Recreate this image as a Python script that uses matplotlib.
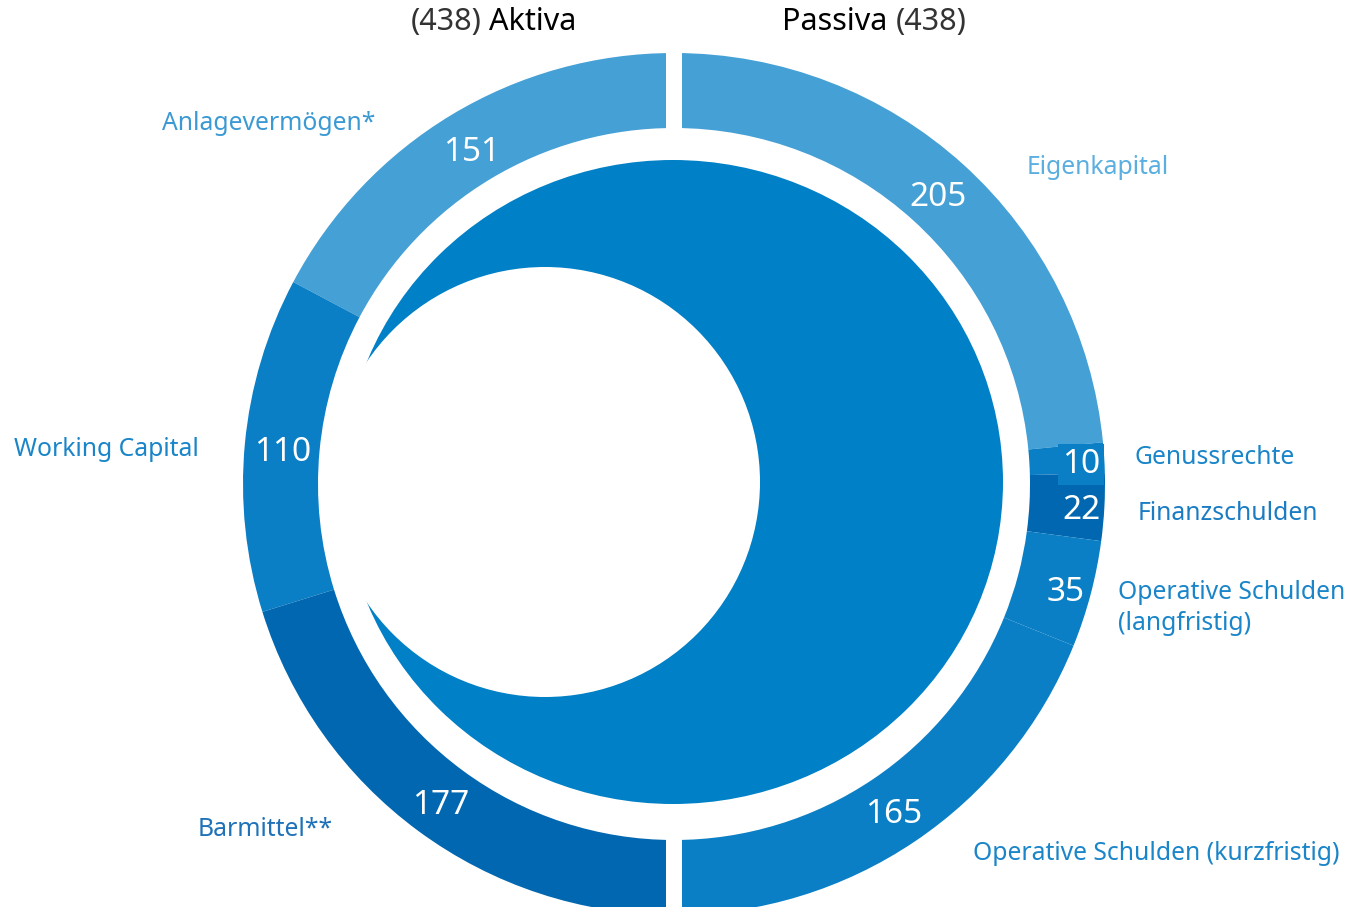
import matplotlib.pyplot as plt
from matplotlib.patches import Wedge, Ellipse, Circle, Rectangle
import numpy as np

plt.rcParams['font.family'] = ['Noto Sans', 'DejaVu Sans']

# Bilanz in Mio.
aktiva_labels = ["Anlagevermögen*", "Working Capital", "Barmittel**"]
aktiva_values = [151, 110, 177]
passiva_labels = ["Eigenkapital", "Genussrechte", "Finanzschulden",
                  "Operative Schulden\n(langfristig)", "Operative Schulden (kurzfristig)"]
passiva_values = [205, 10, 22, 35, 165]
bilanzsumme = 438

LIGHT = "#45a0d5"
MID = "#0a7fc5"
DARK = "#0067b0"
aktiva_colors = [LIGHT, MID, DARK]
passiva_colors = [LIGHT, MID, DARK, MID, MID]
aktiva_text = ["#3b99d3", "#1a85c8", "#1f72b8"]
passiva_text = ["#5aaee0", "#1a85c8", "#1a7cc2", "#1a85c8", "#1a85c8"]

W, H = 1353, 907
fig = plt.figure(figsize=(W / 100, H / 100), dpi=100)
ax = fig.add_axes([0, 0, 1, 1])
ax.set_xlim(0, W)
ax.set_ylim(0, H)
ax.axis("off")

cx, cy = 674, H - 484
R_OUT = 431
RING_W = 75
R_LAB = 393
VFS = 24   # Wertelabels
LFS = 17.8  # Kategorien

def y(px):
    return H - px

def wert(x0, y0, v, **kw):
    ax.text(x0, y0 - 5, str(v), color="white", fontsize=VFS, ha="center", va="center",
            zorder=5, **kw)

# Aktiva: linke Hälfte, von oben gegen den Uhrzeigersinn
tot = sum(aktiva_values)
cum = 0.0
for v, col in zip(aktiva_values, aktiva_colors):
    span = v / tot * 180
    t1, t2 = 90 + cum, 90 + cum + span
    ax.add_patch(Wedge((cx, cy), R_OUT, t1, t2, width=RING_W, facecolor=col, lw=0))
    mid = np.radians((t1 + t2) / 2)
    wert(cx + R_LAB * np.cos(mid), cy + R_LAB * np.sin(mid), v)
    cum += span

# Passiva: rechte Hälfte, von oben im Uhrzeigersinn
tot = sum(passiva_values)
cum = 0.0
lab_r = [R_LAB, 408, 408, 405, R_LAB]
for i, (v, col) in enumerate(zip(passiva_values, passiva_colors)):
    span = v / tot * 180
    t2, t1 = 90 - cum, 90 - cum - span
    ax.add_patch(Wedge((cx, cy), R_OUT, t1, t2, width=RING_W, facecolor=col, lw=0))
    mid = np.radians((t1 + t2) / 2)
    tx, ty = cx + lab_r[i] * np.cos(mid), cy + lab_r[i] * np.sin(mid)
    if v == 10:
        wert(tx, ty, v, bbox=dict(boxstyle="square,pad=0.12", fc=MID, ec="none"))
    else:
        wert(tx, ty, v)
    cum += span

# Trennspalt zwischen Aktiva und Passiva
ax.add_patch(Rectangle((cx - 8, 0), 16, H, facecolor="white", lw=0, zorder=2))

# Innere Sichel
ax.add_patch(Ellipse((673, y(482)), 660, 644, facecolor="#0080c6", lw=0, zorder=3))
ax.add_patch(Circle((545, y(482)), 215, facecolor="white", lw=0, zorder=4))

# Kategorien
ax.text(375, y(123), aktiva_labels[0], color=aktiva_text[0], fontsize=LFS, ha="right", va="center")
ax.text(199, y(450), aktiva_labels[1], color=aktiva_text[1], fontsize=LFS, ha="right", va="center")
ax.text(333, y(830), aktiva_labels[2], color=aktiva_text[2], fontsize=LFS, ha="right", va="center")
ax.text(1027, y(167), passiva_labels[0], color=passiva_text[0], fontsize=LFS, ha="left", va="center")
ax.text(1135, y(458), passiva_labels[1], color=passiva_text[1], fontsize=LFS, ha="left", va="center")
ax.text(1138, y(514), passiva_labels[2], color=passiva_text[2], fontsize=LFS, ha="left", va="center")
ax.text(1118, y(608), passiva_labels[3], color=passiva_text[3], fontsize=LFS, ha="left", va="center",
        linespacing=1.3)
ax.text(973, y(854), passiva_labels[4], color=passiva_text[4], fontsize=LFS, ha="left", va="center")

# Überschriften
TFS = 22
ax.text(482, y(22), f"({bilanzsumme})", color="#333333", fontsize=TFS, fontweight="light",
        ha="right", va="center")
ax.text(489, y(22), "Aktiva", color="black", fontsize=TFS, fontweight="medium", ha="left", va="center")
ax.text(782, y(22), "Passiva", color="black", fontsize=TFS, fontweight="medium", ha="left", va="center")
ax.text(896, y(22), f"({bilanzsumme})", color="#333333", fontsize=TFS, fontweight="light",
        ha="left", va="center")

fig.savefig("out.png", dpi=100, facecolor="white")
